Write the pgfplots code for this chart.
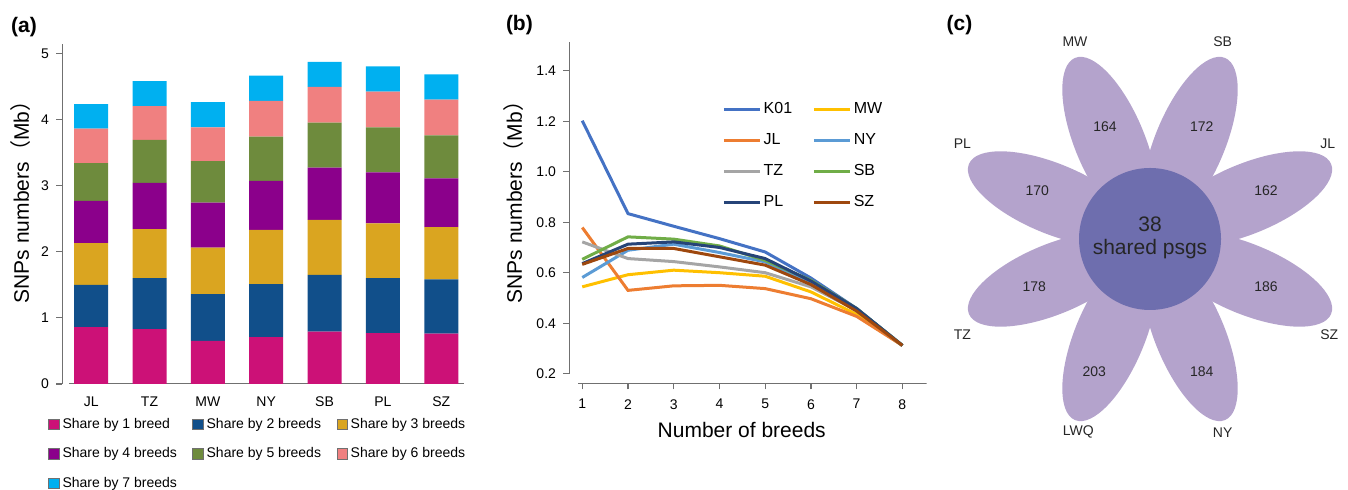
\documentclass[border=0pt]{standalone}
\usepackage{fontspec}
\setmainfont{Liberation Sans}
\newfontfamily\cjk{Noto Sans CJK SC}
\usepackage{pgfplots}
\usepackage{pgfplotstable}
\pgfplotsset{compat=1.18}

\definecolor{sA}{HTML}{CC1177}
\definecolor{sB}{HTML}{114F8A}
\definecolor{sC}{HTML}{DAA520}
\definecolor{sD}{HTML}{8B008B}
\definecolor{sE}{HTML}{6E8B3D}
\definecolor{sF}{HTML}{F08080}
\definecolor{sG}{HTML}{00B0F0}
\definecolor{cK}{HTML}{4472C4}
\definecolor{cMW}{HTML}{FFC000}
\definecolor{cJL}{HTML}{ED7D31}
\definecolor{cNY}{HTML}{5B9BD5}
\definecolor{cTZ}{HTML}{A5A5A5}
\definecolor{cSB}{HTML}{70AD47}
\definecolor{cPL}{HTML}{264478}
\definecolor{cSZ}{HTML}{9E480E}
\definecolor{petal}{HTML}{B4A3CC}
\definecolor{core}{HTML}{6E6EAE}
\definecolor{axgray}{HTML}{707070}

% (a) SNPs shared by n breeds, stacked, Mb
\pgfplotstableread{
x s1 s2 s3 s4 s5 s6 s7
0 0.86 0.64 0.63 0.64 0.57 0.52 0.37
1 0.83 0.77 0.74 0.70 0.65 0.51 0.38
2 0.65 0.71 0.70 0.68 0.63 0.51 0.38
3 0.71 0.80 0.82 0.74 0.67 0.54 0.38
4 0.79 0.86 0.83 0.79 0.68 0.54 0.38
5 0.77 0.83 0.83 0.77 0.68 0.54 0.38
6 0.76 0.82 0.79 0.74 0.65 0.54 0.38
}\shares

% (b) SNPs numbers vs number of breeds
\pgfplotstableread{
x K01 MW JL NY TZ SB PL SZ
1 1.202 0.544 0.779 0.581 0.722 0.653 0.636 0.633
2 0.834 0.592 0.530 0.689 0.656 0.742 0.713 0.696
3 0.784 0.610 0.548 0.713 0.644 0.733 0.722 0.696
4 0.735 0.600 0.550 0.680 0.623 0.706 0.700 0.663
5 0.682 0.586 0.537 0.643 0.600 0.649 0.656 0.630
6 0.579 0.524 0.497 0.561 0.544 0.570 0.567 0.553
7 0.458 0.435 0.427 0.454 0.451 0.458 0.458 0.448
8 0.312 0.312 0.312 0.312 0.312 0.312 0.312 0.312
}\curves

% (c) petal counts and breed names
\pgfplotstableread{
x y lab
-45 112.3 164
51.7 112.3 172
-112.7 48 170
116 48 162
-115.7 -47.7 178
116 -47.7 186
-55.7 -132.7 203
51.7 -132.7 184
}\petalnums

\pgfplotstableread{
x y lab
-75 197.3 MW
72.7 197.3 SB
-187.7 95.7 PL
177.7 95.7 JL
-187.7 -95.3 TZ
179.3 -95.3 SZ
-71.7 -193.3 LWQ
72.7 -193.3 NY
}\breednames

\pgfplotsset{textonly/.style={only marks, mark=*, mark size=0pt,
    scatter/use mapped color={draw=none, fill=none},
    point meta=explicit symbolic, nodes near coords,
    nodes near coords style={anchor=center, font=\fontsize{7}{8}\selectfont, text=black!85}}}

\begin{document}
\begin{tikzpicture}
\useasboundingbox (0,0) rectangle (674pt,245pt);

\node[font=\bfseries\fontsize{10.5}{12}\selectfont] at (12pt,231.5pt) {(a)};
\node[font=\bfseries\fontsize{10.5}{12}\selectfont] at (259.7pt,232.5pt) {(b)};
\node[font=\bfseries\fontsize{10.5}{12}\selectfont] at (479.7pt,232.5pt) {(c)};

% ---------- (a)
\begin{axis}[
    at={(31pt,53pt)}, anchor=south west,
    scale only axis, width=201pt, height=170pt,
    ybar stacked, bar width=17pt,
    xmin=-0.5, xmax=6.39, ymin=0, ymax=5.14,
    axis lines*=left, axis line style={draw=none},
    xtick={0,...,6}, xticklabels={JL,TZ,MW,NY,SB,PL,SZ},
    x tick style={draw=none},
    ytick={0,1,2,3,4,5},
    y tick style={axgray, line width=0.6pt},
    tick align=outside, major tick length=3pt,
    tick label style={font=\fontsize{7}{8}\selectfont},
    /pgf/number format/assume math mode=true,
    ylabel={SNPs numbers{\cjk （}Mb{\cjk ）}},
    ylabel style={font=\fontsize{10.5}{12}\selectfont, at={(axis description cs:-0.102,0.55)}, anchor=center},
    legend columns=3, legend cell align=left,
    legend style={at={(axis description cs:-0.035,-0.088)}, anchor=north west,
        draw=none, fill=none, inner sep=0pt, font=\fontsize{7}{8}\selectfont,
        row sep=4.75pt,
        /tikz/every even column/.append style={column sep=6.25pt},
        nodes={inner sep=1.5pt, text height=5.5pt, text depth=1.5pt}},
    legend image code/.code={\draw[#1, draw=axgray, line width=0.4pt] (0pt,-2.6pt) rectangle (5.2pt,2.6pt);},
]
\addplot[fill=sA, draw=none] table[x=x, y=s1] {\shares};
\addplot[fill=sB, draw=none] table[x=x, y=s2] {\shares};
\addplot[fill=sC, draw=none] table[x=x, y=s3] {\shares};
\addplot[fill=sD, draw=none] table[x=x, y=s4] {\shares};
\addplot[fill=sE, draw=none] table[x=x, y=s5] {\shares};
\addplot[fill=sF, draw=none] table[x=x, y=s6] {\shares};
\addplot[fill=sG, draw=none] table[x=x, y=s7] {\shares};
\legend{Share by 1 breed,Share by 2 breeds,Share by 3 breeds,Share by 4 breeds,Share by 5 breeds,Share by 6 breeds,Share by 7 breeds}
\draw[axgray, line width=0.6pt] (axis cs:-0.377,0) -- (axis cs:6.39,0);
\draw[axgray, line width=0.6pt] (axis cs:-0.5,0) -- (axis cs:-0.5,5.14);
\end{axis}

% ---------- (b)
\begin{axis}[
    at={(284.5pt,53.35pt)}, anchor=south west,
    scale only axis, width=178.8pt, height=170.8pt,
    xmin=0.71, xmax=8.53, ymin=0.162, ymax=1.515,
    axis lines*=left, axis line style={draw=none},
    xtick={1,...,8}, ytick={0.2,0.4,0.6,0.8,1.0,1.2,1.4},
    tick style={axgray, line width=0.6pt},
    tick align=outside, major tick length=3pt,
    tick label style={font=\fontsize{7}{8}\selectfont},
    xticklabel style={yshift=-1.5pt},
    /pgf/number format/assume math mode=true,
    yticklabel style={/pgf/number format/.cd, fixed, fixed zerofill, precision=1},
    xlabel={Number of breeds},
    xlabel style={font=\fontsize{10.5}{12}\selectfont, at={(axis description cs:0.483,-0.137)}, anchor=center},
    ylabel={SNPs numbers{\cjk （}Mb{\cjk ）}},
    ylabel style={font=\fontsize{10.5}{12}\selectfont, at={(axis description cs:-0.154,0.545)}, anchor=center},
    legend columns=2, legend cell align=left,
    legend style={at={(axis description cs:0.427,0.831)}, anchor=north west,
        draw=none, fill=none, inner sep=0pt, font=\fontsize{8}{9}\selectfont,
        row sep=6pt,
        /tikz/every even column/.append style={column sep=9pt},
        nodes={inner sep=1pt, text height=6pt, text depth=1.5pt}},
    legend image code/.code={\draw[#1, line width=1.8pt] (0pt,0pt) -- (18pt,0pt);},
]
\addplot[cK, line width=1.5pt] table[x=x, y=K01] {\curves};
\addplot[cMW, line width=1.5pt] table[x=x, y=MW] {\curves};
\addplot[cJL, line width=1.5pt] table[x=x, y=JL] {\curves};
\addplot[cNY, line width=1.5pt] table[x=x, y=NY] {\curves};
\addplot[cTZ, line width=1.5pt] table[x=x, y=TZ] {\curves};
\addplot[cSB, line width=1.5pt] table[x=x, y=SB] {\curves};
\addplot[cPL, line width=1.5pt] table[x=x, y=PL] {\curves};
\addplot[cSZ, line width=1.5pt] table[x=x, y=SZ] {\curves};
\legend{K01,MW,JL,NY,TZ,SB,PL,SZ}
\draw[axgray, line width=0.6pt] (axis cs:0.91,0.162) -- (axis cs:8.53,0.162);
\draw[axgray, line width=0.6pt] (axis cs:0.71,0.2) -- (axis cs:0.71,1.515);
\end{axis}

% ---------- (c)
\begin{axis}[
    at={(465pt,0pt)}, anchor=south west,
    scale only axis, width=209pt, height=245pt,
    xmin=-220, xmax=198, ymin=-251, ymax=239,
    hide axis, clip=false,
]
\fill[petal, rotate around={112.5:(axis cs:0,0)}] (axis cs:105,0) ellipse [x radius=91, y radius=35];
\fill[petal, rotate around={67.5:(axis cs:0,0)}] (axis cs:105,0) ellipse [x radius=91, y radius=35];
\fill[petal, rotate around={22.5:(axis cs:0,0)}] (axis cs:105,0) ellipse [x radius=91, y radius=35];
\fill[petal, rotate around={-22.5:(axis cs:0,0)}] (axis cs:105,0) ellipse [x radius=91, y radius=35];
\fill[petal, rotate around={-67.5:(axis cs:0,0)}] (axis cs:105,0) ellipse [x radius=91, y radius=35];
\fill[petal, rotate around={-112.5:(axis cs:0,0)}] (axis cs:105,0) ellipse [x radius=91, y radius=35];
\fill[petal, rotate around={-157.5:(axis cs:0,0)}] (axis cs:105,0) ellipse [x radius=91, y radius=35];
\fill[petal, rotate around={157.5:(axis cs:0,0)}] (axis cs:105,0) ellipse [x radius=91, y radius=35];
\fill[core] (axis cs:0,0) circle [radius=71];
\addplot[textonly] table[x=x, y=y, meta=lab] {\petalnums};
\addplot[textonly] table[x=x, y=y, meta=lab] {\breednames};
\node[font=\fontsize{10.5}{12}\selectfont, text=black!85] at (axis cs:0,15) {38};
\node[font=\fontsize{10.5}{12}\selectfont, text=black!85] at (axis cs:0,-10.3) {shared psgs};
\end{axis}
\end{tikzpicture}
\end{document}
